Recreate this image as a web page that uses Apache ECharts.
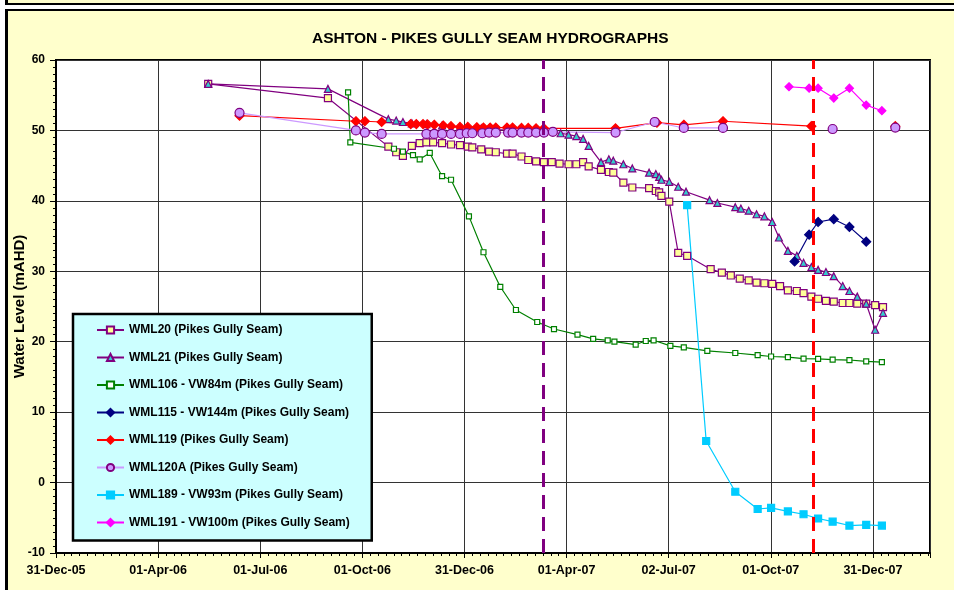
<!DOCTYPE html>
<html lang="en">
<head>
    <meta charset="UTF-8">
    <title>Ashton - Pikes Gully Seam Hydrographs</title>
    <script src="https://cdn.jsdelivr.net/npm/echarts@6/dist/echarts.min.js"></script>
    <style>
        body { margin: 0; background: #fff; }
        #strip { position: absolute; left: 5px; top: 0; width: 949px; height: 3px; background: #FFFFCC;
                 border-left: 3px solid #000; border-bottom: 2px solid #000; }
        #panel { position: absolute; left: 5px; top: 9px; width: 960px; height: 600px; background: #FFFFCC;
                 border-left: 3px solid #000; border-top: 2px solid #000; }
        #chart { position: absolute; left: 0; top: 0; width: 954px; height: 590px; }
    </style>
</head>
<body>
<div id="strip"></div>
<div id="panel"></div>
<div id="chart"></div>
<script>
    // x axis: days counted from 31-Dec-05
    const xLabels = ['31-Dec-05', '01-Apr-06', '01-Jul-06', '01-Oct-06', '31-Dec-06',
        '01-Apr-07', '02-Jul-07', '01-Oct-07', '31-Dec-07'];
    const markDates = ['2007-03-11', '2007-11-08'];

    const wml20Dates = ['2006-05-16', '2006-08-31', '2006-10-24', '2006-10-31', '2006-11-06', '2006-11-14',
        '2006-11-21', '2006-11-27', '2006-12-03', '2006-12-11', '2006-12-19', '2006-12-27', '2007-01-03',
        '2007-01-07', '2007-01-15', '2007-01-22', '2007-01-28', '2007-02-07', '2007-02-12', '2007-02-20',
        '2007-02-26', '2007-03-05', '2007-03-12', '2007-03-19', '2007-03-26', '2007-04-03', '2007-04-10',
        '2007-04-16', '2007-04-21', '2007-05-02', '2007-05-09', '2007-05-13', '2007-05-22', '2007-05-30',
        '2007-06-14', '2007-06-20', '2007-06-23', '2007-06-25', '2007-07-02', '2007-07-10', '2007-07-18',
        '2007-08-08', '2007-08-18', '2007-08-26', '2007-09-03', '2007-09-11', '2007-09-18', '2007-09-25',
        '2007-10-02', '2007-10-09', '2007-10-16', '2007-10-24', '2007-10-30', '2007-11-06', '2007-11-12',
        '2007-11-19', '2007-11-26', '2007-12-04', '2007-12-10', '2007-12-17', '2007-12-25', '2008-01-02',
        '2008-01-09'];
    const wml20Values = [56.6, 54.6, 47.7, 46.9, 46.4, 47.8, 48.2, 48.3, 48.3, 48.2, 48.0, 47.9, 47.7,
        47.6, 47.3, 47.0, 46.9, 46.7, 46.7, 46.3, 45.8, 45.6, 45.5, 45.5, 45.3, 45.2, 45.2,
        45.5, 44.9, 44.4, 44.1, 44.0, 42.6, 41.9, 41.8, 41.4, 41.2, 40.7, 39.9, 32.6, 32.2,
        30.3, 29.8, 29.4, 28.95, 28.7, 28.4, 28.3, 28.2, 27.9, 27.3, 27.2, 26.9, 26.4, 26.1,
        25.8, 25.7, 25.5, 25.5, 25.4, 25.4, 25.2, 24.9];

    const wml21Dates = ['2006-05-16', '2006-08-31', '2006-10-24', '2006-10-31', '2006-11-06', '2006-11-14',
        '2006-11-27', '2006-12-11', '2006-12-27', '2007-01-15', '2007-01-28', '2007-02-12', '2007-02-26',
        '2007-03-12', '2007-03-27', '2007-04-03', '2007-04-10', '2007-04-16', '2007-04-21', '2007-05-02',
        '2007-05-09', '2007-05-13', '2007-05-22', '2007-05-30', '2007-06-14', '2007-06-20', '2007-06-23',
        '2007-06-25', '2007-07-02', '2007-07-10', '2007-07-17', '2007-08-07', '2007-08-14', '2007-08-30',
        '2007-09-04', '2007-09-11', '2007-09-18', '2007-09-25', '2007-10-02', '2007-10-08', '2007-10-16',
        '2007-10-24', '2007-10-30', '2007-11-06', '2007-11-12', '2007-11-19', '2007-11-26', '2007-12-04',
        '2007-12-10', '2007-12-17', '2007-12-25', '2008-01-02', '2008-01-09'];
    const wml21Values = [56.6, 55.9, 51.6, 51.4, 51.2, 51.0, 50.9, 50.7, 50.5, 50.3, 50.1, 50.0, 49.9,
        49.8, 49.6, 49.4, 49.2, 48.8, 47.8, 45.5, 45.9, 45.7, 45.2, 44.6, 44.0, 43.8, 43.4,
        43.0, 42.7, 42.0, 41.3, 40.1, 39.7, 39.1, 38.9, 38.6, 38.1, 37.8, 37.0, 34.8, 32.9,
        32.2, 31.2, 30.6, 30.2, 29.9, 29.3, 27.9, 27.2, 26.4, 25.4, 21.7, 24.1];

    const wml106Dates = ['2006-09-18', '2006-09-20', '2006-10-29', '2006-11-06', '2006-11-15', '2006-11-21',
        '2006-11-30', '2006-12-11', '2006-12-19', '2007-01-04', '2007-01-17', '2007-02-01', '2007-02-15',
        '2007-03-06', '2007-03-21', '2007-04-11', '2007-04-25', '2007-05-08', '2007-05-14', '2007-06-02',
        '2007-06-11', '2007-06-18', '2007-07-03', '2007-07-15', '2007-08-05', '2007-08-30', '2007-09-19',
        '2007-10-01', '2007-10-16', '2007-10-30', '2007-11-12', '2007-11-25', '2007-12-10', '2007-12-25',
        '2008-01-08'];
    const wml106Values = [55.4, 48.3, 47.4, 47.0, 46.5, 45.9, 46.8, 43.5, 43.0, 37.8, 32.7, 27.8, 24.5,
        22.8, 21.8, 21.0, 20.4, 20.2, 20.0, 19.6, 20.1, 20.2, 19.4, 19.2, 18.7, 18.4, 18.1,
        17.9, 17.8, 17.6, 17.55, 17.45, 17.4, 17.2, 17.1];

    const wml115Dates = ['2007-10-22', '2007-11-04', '2007-11-12', '2007-11-26', '2007-12-10', '2007-12-25'];
    const wml115Values = [31.4, 35.2, 37.0, 37.4, 36.3, 34.2];

    // null = gap in the record, line is not joined across it
    const wml119Dates = ['2006-06-13', '2006-09-25', '2006-10-03', '2006-10-18', '2006-11-13', '2006-11-18',
        '2006-11-24', '2006-11-28', '2006-12-04', '2006-12-12', '2006-12-19', '2006-12-27', '2007-01-03',
        '2007-01-11', '2007-01-17', '2007-01-23', '2007-01-28', '2007-02-07', '2007-02-12', '2007-02-20',
        '2007-02-26', '2007-03-05', '2007-03-12', '2007-05-15', '2007-06-21', '2007-07-15', '2007-08-19',
        '2007-11-06', '2007-11-07', '2008-01-20'];
    const wml119Values = [52.1, 51.3, 51.3, 51.2, 50.9, 50.9, 50.9, 50.85, 50.8, 50.7, 50.6, 50.5, 50.5,
        50.45, 50.4, 50.4, 50.4, 50.4, 50.4, 50.35, 50.35, 50.3, 50.3, 50.3, 51.1, 50.8, 51.3,
        50.6, null, 50.6];

    const wml120aDates = ['2006-06-13', '2006-09-25', '2006-10-03', '2006-10-18', '2006-11-27', '2006-12-04',
        '2006-12-11', '2006-12-19', '2006-12-27', '2007-01-02', '2007-01-07', '2007-01-16', '2007-01-22',
        '2007-01-28', '2007-02-08', '2007-02-12', '2007-02-20', '2007-02-26', '2007-03-05', '2007-03-12',
        '2007-03-20', '2007-05-15', '2007-06-19', '2007-07-15', '2007-08-19', '2007-08-20', '2007-11-25',
        '2007-11-26', '2008-01-20'];
    const wml120aValues = [52.5, 50.0, 49.7, 49.5, 49.5, 49.5, 49.5, 49.5, 49.5, 49.6, 49.6, 49.6, 49.7,
        49.7, 49.7, 49.7, 49.7, 49.7, 49.7, 49.7, 49.8, 49.7, 51.2, 50.35, 50.35, null, 50.2,
        null, 50.4];

    const wml189Dates = ['2007-07-18', '2007-08-04', '2007-08-30', '2007-09-19', '2007-10-01', '2007-10-16',
        '2007-10-30', '2007-11-12', '2007-11-25', '2007-12-10', '2007-12-25', '2008-01-08'];
    const wml189Values = [39.4, 5.9, -1.3, -3.75, -3.6, -4.1, -4.5, -5.1, -5.55, -6.1, -6.0, -6.1];

    const wml191Dates = ['2007-10-17', '2007-11-04', '2007-11-12', '2007-11-26', '2007-12-10', '2007-12-25',
        '2008-01-08'];
    const wml191Values = [56.2, 56.0, 56.0, 54.6, 56.0, 53.6, 52.8];

    const dayStep = 91.25;
    const font = 'Arial, "Liberation Sans", sans-serif';

    function toDay(s) {
        let p = s.split('-');
        return (Date.UTC(+p[0], +p[1] - 1, +p[2]) - Date.UTC(2005, 11, 31)) / 86400000;
    }

    function pairs(dates, values) {
        return dates.map(function (d, i) {
            return [toDay(d), values[i] === null ? '-' : values[i]];
        });
    }

    function lineSeries(name, dates, values, color, symbol, size, fill, border) {
        return {
            name: name,
            type: 'line',
            data: pairs(dates, values),
            symbol: symbol,
            symbolSize: size,
            connectNulls: false,
            lineStyle: {color: color, width: 1.2},
            itemStyle: {color: fill, borderColor: border, borderWidth: 1.2},
            emphasis: {disabled: true},
            animation: false
        };
    }

    let series = [
        lineSeries('WML20 (Pikes Gully Seam)', wml20Dates, wml20Values, '#800080', 'rect', 7, '#FFFF99', '#800080'),
        lineSeries('WML21 (Pikes Gully Seam)', wml21Dates, wml21Values, '#800080', 'triangle', 7, '#33CCCC', '#800080'),
        lineSeries('WML106 - VW84m (Pikes Gully Seam)', wml106Dates, wml106Values, '#008000', 'rect', 5, '#FFFFFF', '#008000'),
        lineSeries('WML115 - VW144m (Pikes Gully Seam)', wml115Dates, wml115Values, '#000080', 'diamond', 9, '#000080', '#000080'),
        lineSeries('WML119 (Pikes Gully Seam)', wml119Dates, wml119Values, '#FF0000', 'diamond', 9, '#FF0000', '#FF0000'),
        lineSeries('WML120A (Pikes Gully Seam)', wml120aDates, wml120aValues, '#CC99FF', 'circle', 9, '#CC99FF', '#800080'),
        lineSeries('WML189 - VW93m (Pikes Gully Seam)', wml189Dates, wml189Values, '#00CCFF', 'rect', 7, '#00CCFF', '#00CCFF'),
        lineSeries('WML191 - VW100m (Pikes Gully Seam)', wml191Dates, wml191Values, '#FF00FF', 'diamond', 8, '#FF00FF', '#FF00FF')
    ];

    // dashed reference lines
    series[0].markLine = {
        silent: true,
        symbol: ['none', 'none'],
        label: {show: false},
        animation: false,
        data: [
            {xAxis: toDay(markDates[0]), lineStyle: {color: '#800080', width: 3, type: [14, 8]}},
            {xAxis: toDay(markDates[1]), lineStyle: {color: '#FF0000', width: 3, type: [14, 8]}}
        ]
    };

    let myChart = echarts.init(document.getElementById('chart'));
    let myOption = {
        backgroundColor: 'transparent',
        title: {
            text: 'ASHTON - PIKES GULLY SEAM HYDROGRAPHS',
            left: 307,
            top: 26,
            textStyle: {fontFamily: font, fontSize: 15.5, fontWeight: 'bold', color: '#000'}
        },
        grid: {
            left: 56, right: 24, top: 60, bottom: 37,
            outerBoundsMode: 'none',
            containLabel: false,
            show: true,
            backgroundColor: '#FFFFFF',
            borderColor: '#000',
            borderWidth: 2
        },
        legend: {
            orient: 'vertical',
            left: 73,
            top: 314,
            backgroundColor: '#CCFFFF',
            borderColor: '#000',
            borderWidth: 2.5,
            padding: [9, 22, 11, 23],
            itemWidth: 27,
            itemHeight: 9,
            itemGap: 13.5,
            textStyle: {fontFamily: font, fontSize: 12, fontWeight: 'bold', color: '#000', lineHeight: 14},
            selectedMode: false
        },
        xAxis: {
            type: 'value',
            min: 0,
            max: 781,
            interval: dayStep,
            axisLine: {onZero: false, lineStyle: {color: '#000', width: 2}},
            axisTick: {length: 5, lineStyle: {color: '#000'}},
            minorTick: {show: true, splitNumber: 13, length: 3, lineStyle: {color: '#000'}},
            splitLine: {show: true, lineStyle: {color: '#333', width: 1}},
            axisLabel: {
                fontFamily: font, fontSize: 12.5, fontWeight: 'bold', color: '#000', margin: 11,
                formatter: function (v) {
                    let i = Math.round(v / dayStep);
                    if (Math.abs(v - i * dayStep) < 0.5 && i < xLabels.length) return xLabels[i];
                    return '';
                }
            }
        },
        yAxis: {
            type: 'value',
            min: -10,
            max: 60,
            interval: 10,
            name: 'Water Level (mAHD)',
            nameLocation: 'middle',
            nameGap: 29,
            nameMoveOverlap: false,
            nameTextStyle: {fontFamily: font, fontSize: 15, fontWeight: 'bold', color: '#000'},
            axisLine: {onZero: false, lineStyle: {color: '#000', width: 2}},
            axisTick: {length: 6, lineStyle: {color: '#000'}},
            minorTick: {show: true, splitNumber: 10, length: 3, lineStyle: {color: '#000'}},
            splitLine: {show: true, lineStyle: {color: '#333', width: 1}},
            axisLabel: {fontFamily: font, fontSize: 12, fontWeight: 'bold', color: '#000', margin: 11}
        },
        series: series
    };
    myChart.setOption(myOption);
</script>
</body>
</html>
